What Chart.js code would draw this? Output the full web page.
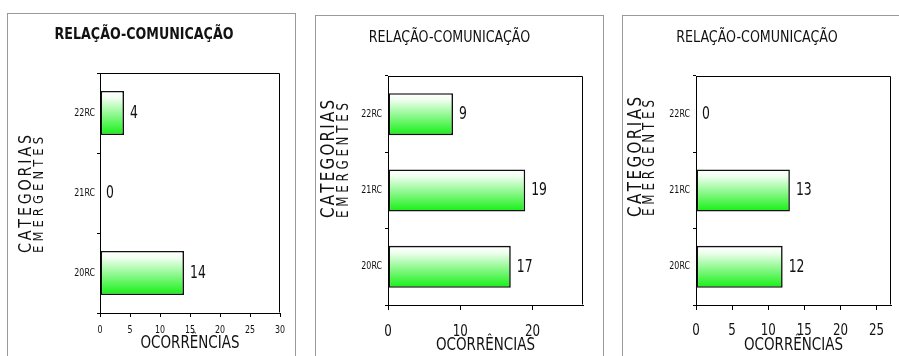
<!DOCTYPE html>
<html><head><meta charset="utf-8">
<script src="https://cdn.jsdelivr.net/npm/chart.js@4.4.1/dist/chart.umd.min.js"></script>
<style>
html,body{margin:0;padding:0;background:#fff;width:899px;height:356px;overflow:hidden;position:relative}
.frame{position:absolute;border:1px solid #9a9a9a;border-bottom:none;height:400px}
canvas{position:absolute;top:0}
</style></head><body>
<div class="frame" style="left:7px;top:13px;width:287px"></div>
<div class="frame" style="left:315px;top:15px;width:287px"></div>
<div class="frame" style="left:622px;top:15px;width:300px"></div>
<canvas id="c1" width="287" height="356" style="left:8px;width:287px;height:356px"></canvas>
<canvas id="c2" width="287" height="356" style="left:316px;width:287px;height:356px"></canvas>
<canvas id="c3" width="285" height="356" style="left:623px;width:285px;height:356px"></canvas>
<script>
// ---- data ----
const categories = ['22RC', '21RC', '20RC'];
const values1 = [4, 0, 14];
const values2 = [9, 19, 17];
const values3 = [0, 13, 12];
const axisMax = [30, 27, 27];
const tickSteps = [5, 10, 5];
const chartTitle = 'RELAÇÃO-COMUNICAÇÃO';
const yTitleLines = ['CATEGORIAS', 'EMERGENTES'];
const xTitle = 'OCORRÊNCIAS';

// ---- style ----
const FONT = "'DejaVu Sans Condensed','DejaVu Sans',sans-serif";
const BAR_PCT = 0.55;
const SQUEEZE = 0.88;   // horizontal condensing of all text (narrow typeface look)

// make every text drawn on a canvas horizontally condensed
function condenseText(canvas, k) {
  const ctx = canvas.getContext('2d');
  const orig = CanvasRenderingContext2D.prototype.fillText;
  ctx.fillText = function (t, x, y, mw) {
    this.save();
    this.translate(x, y);
    this.scale(k, 1);
    if (mw === undefined) orig.call(this, t, 0, 0);
    else orig.call(this, t, 0, 0, mw / k);
    this.restore();
  };
}

function gradientFill(ctx) {
  const chart = ctx.chart;
  const area = chart.chartArea;
  if (!area || ctx.type !== 'data' || !chart.scales.y) return '#22ee22';
  const yScale = chart.scales.y;
  const yc = yScale.getPixelForValue(ctx.dataIndex);
  const band = (area.bottom - area.top) / categories.length;
  const h = band * BAR_PCT / 2;
  const g = chart.ctx.createLinearGradient(0, yc - h, 0, yc + h);
  g.addColorStop(0, '#ffffff');
  g.addColorStop(0.15, '#f2fff2');
  g.addColorStop(1, '#14f014');
  return g;
}

const plotBorder = {
  id: 'plotBorder',
  afterDraw(chart) {
    const a = chart.chartArea, c = chart.ctx;
    c.save();
    c.strokeStyle = '#000';
    c.lineWidth = 1;
    c.beginPath();
    const l = Math.round(a.left) + 0.5, r = Math.round(a.right) - 0.5;
    const t = Math.round(a.top) + 0.5, b = Math.round(a.bottom) - 0.5;
    c.moveTo(l, t); c.lineTo(r, t); c.lineTo(r, b);
    c.stroke();
    c.restore();
  }
};

const valueLabels = {
  id: 'valueLabels',
  afterDatasetsDraw(chart, args, opts) {
    const c = chart.ctx;
    const meta = chart.getDatasetMeta(0);
    const data = chart.data.datasets[0].data;
    c.save();
    c.fillStyle = '#111';
    c.font = opts.size + 'px ' + FONT;
    c.textAlign = 'left';
    c.textBaseline = 'middle';
    meta.data.forEach((el, i) => {
      c.save();
      c.translate(el.x + opts.gap, el.y);
      c.scale(opts.extra, 1);
      c.fillText(String(data[i]), 0, 0);
      c.restore();
    });
    c.restore();
  }
};

const yTitle = {
  id: 'yTitle',
  afterDraw(chart, args, o) {
    const c = chart.ctx;
    c.save();
    c.fillStyle = '#111';
    c.textBaseline = 'middle';
    c.textAlign = 'left';
    o.lines.forEach((txt, i) => {
      const spec = o.spec[i];
      c.save();
      c.translate(spec.x, spec.y);
      c.rotate(-Math.PI / 2);
      c.font = spec.size + 'px ' + FONT;
      const chars = Array.from(txt);
      const widths = chars.map(ch => c.measureText(ch).width * SQUEEZE);
      const total = widths.reduce((a, b) => a + b, 0);
      const gap = (spec.len - total) / (chars.length - 1);
      let pos = -spec.len / 2;
      chars.forEach((ch, j) => {
        c.fillText(ch, pos, 0);
        pos += widths[j] + gap;
      });
      c.restore();
    });
    c.restore();
  }
};

function makeChart(id, values, idx, cfg) {
  const canvas = document.getElementById(id);
  condenseText(canvas, SQUEEZE);
  const tlh = cfg.titleSize * 1.2;
  const tPadTop = cfg.titleY - tlh / 2;
  const tPadBottom = cfg.plotTop - tPadTop - tlh;
  return new Chart(canvas, {
    type: 'bar',
    data: {
      labels: categories,
      datasets: [{
        data: values,
        backgroundColor: gradientFill,
        borderColor: '#111',
        borderWidth: 1.6,
        borderSkipped: false,
        categoryPercentage: 1,
        barPercentage: BAR_PCT
      }]
    },
    options: {
      indexAxis: 'y',
      responsive: false,
      animation: false,
      events: [],
      layout: { padding: { left: 0, top: 0, right: cfg.padRight, bottom: 0 } },
      plugins: {
        legend: { display: false },
        tooltip: { enabled: false },
        title: {
          display: true,
          text: chartTitle,
          color: '#111',
          font: { family: FONT, size: cfg.titleSize, weight: cfg.titleBold ? 'bold' : 'normal', lineHeight: 1.2 },
          padding: { top: tPadTop, bottom: tPadBottom }
        },
        valueLabels: { size: 18, gap: 6, extra: 0.87 },
        yTitle: { lines: yTitleLines, spec: cfg.yT }
      },
      scales: {
        x: {
          type: 'linear',
          min: 0,
          max: axisMax[idx],
          afterFit(s) { s.height = cfg.xScaleH; },
          ticks: {
            stepSize: tickSteps[idx],
            includeBounds: false,
            color: '#111',
            padding: cfg.xTickPad,
            maxRotation: 0,
            autoSkip: false,
            font: { family: FONT, size: cfg.xTickSize, lineHeight: 1.2 }
          },
          grid: { display: true, drawOnChartArea: false, drawTicks: true, tickLength: cfg.xTickLen, color: '#000' },
          border: { display: true, color: '#000', width: 1 },
          title: {
            display: true,
            text: xTitle,
            color: '#111',
            font: { family: FONT, size: 17, lineHeight: 1 },
            padding: { top: 0, bottom: cfg.xTitlePadB }
          }
        },
        y: {
          type: 'category',
          afterFit(s) { s.width = cfg.plotLeft; },
          ticks: {
            color: '#111',
            padding: cfg.yTickPad,
            font: { family: FONT, size: 10 }
          },
          grid: { display: true, offset: true, drawOnChartArea: false, drawTicks: true, tickLength: 3, color: '#000' },
          border: { display: true, color: '#000', width: 1 }
        }
      }
    },
    plugins: [plotBorder, valueLabels, yTitle]
  });
}

makeChart('c1', values1, 0, {
  titleBold: true, titleSize: 16, titleY: 35, plotTop: 73, plotLeft: 92, padRight: 15,
  xScaleH: 43, xTickSize: 10, xTickPad: 7.5, xTickLen: 4, xTitlePadB: 4, yTickPad: 2,
  yT: [{ x: 18.5, y: 194, len: 118, size: 18 }, { x: 31, y: 195, len: 116, size: 14.5 }]
});
makeChart('c2', values2, 1, {
  titleBold: false, titleSize: 16, titleY: 37.5, plotTop: 76, plotLeft: 72, padRight: 20,
  xScaleH: 51, xTickSize: 15, xTickPad: 13, xTickLen: 5, xTitlePadB: 2, yTickPad: 3,
  yT: [{ x: 12.7, y: 159, len: 118, size: 19 }, { x: 28, y: 160.5, len: 115, size: 15 }]
});
makeChart('c3', values3, 2, {
  titleBold: false, titleSize: 16, titleY: 37.5, plotTop: 76, plotLeft: 73, padRight: 17,
  xScaleH: 51, xTickSize: 15, xTickPad: 12.5, xTickLen: 5, xTitlePadB: 2, yTickPad: 3,
  yT: [{ x: 12.7, y: 157, len: 120, size: 19 }, { x: 27, y: 158, len: 116, size: 15 }]
});
</script>
</body></html>
